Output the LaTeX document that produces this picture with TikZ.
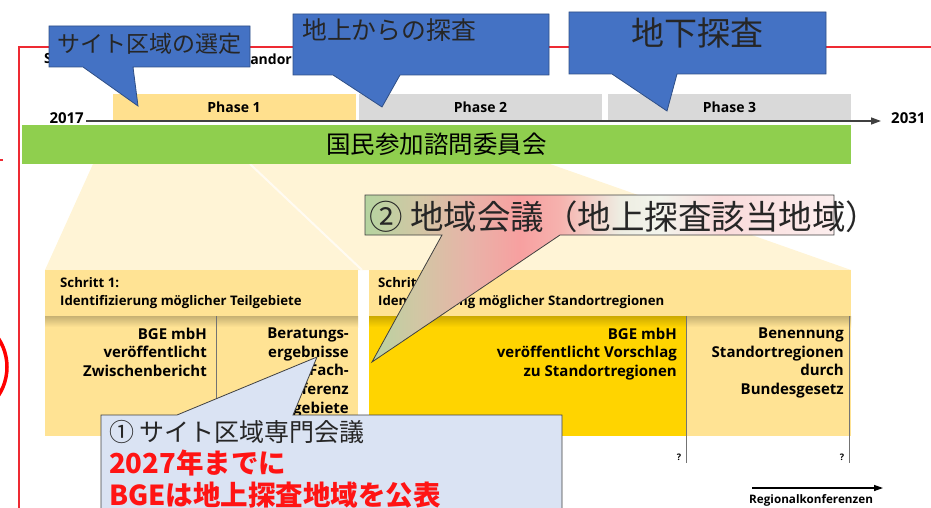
\documentclass[tikz,border=0pt]{standalone}
\usepackage{fontspec}
\setmainfont{Open Sans}
\newfontfamily\jp{Noto Sans CJK JP}
\usetikzlibrary{arrows.meta}

\definecolor{framered}{HTML}{EE2A33}
\definecolor{calloutblue}{HTML}{4472C4}
\definecolor{calloutedge}{HTML}{2F4F86}
\definecolor{phaseyel}{HTML}{FFE08E}
\definecolor{phasegray}{HTML}{D9D9D9}
\definecolor{advgreen}{HTML}{8FCF4E}
\definecolor{fancream}{HTML}{FFF4D6}
\definecolor{stepyel}{HTML}{FFE394}
\definecolor{stepgold}{HTML}{FFD400}
\definecolor{notered}{HTML}{FF1414}
\definecolor{noteblue}{HTML}{DAE3F3}
% colours of the regional callout, left to right
\definecolor{rgA}{HTML}{B5D4A0}
\definecolor{rgB}{HTML}{D2C6A4}
\definecolor{rgC}{HTML}{E8B3A8}
\definecolor{rgD}{HTML}{F7A0A0}
\definecolor{rgE}{HTML}{F6B2AE}
\definecolor{rgF}{HTML}{EEEDE2}
\definecolor{rgG}{HTML}{F2F4EC}
\definecolor{rgH}{HTML}{F9DADA}
\definecolor{rgI}{HTML}{FCEEEE}
\pgfdeclarehorizontalshading{regionshade}{100bp}{color(0bp)=(rgA); color(25bp)=(rgA); color(30.8bp)=(rgB); color(36.2bp)=(rgC); color(41.5bp)=(rgD); color(45.8bp)=(rgE); color(52.2bp)=(rgF); color(56.5bp)=(rgG); color(62.8bp)=(rgH); color(75bp)=(rgI); color(100bp)=(rgI)}

\tikzset{
  frameline/.style={draw=framered, line width=1.1pt},
  bluecall/.style={fill=calloutblue, draw=calloutedge, line width=0.8pt},
  bluetext/.style={inner sep=0pt, text=black!85, font=\jp\fontsize{#1}{#1}\selectfont},
  phasebar/.style={minimum width=243pt, minimum height=27pt, inner sep=0pt, font=\bfseries\fontsize{14}{16}\selectfont},
  yearlabel/.style={inner sep=2pt, font=\bfseries\fontsize{15}{17}\selectfont},
  timeline/.style={draw=black!75, line width=1.4pt, shorten >=8pt, -{Triangle[length=10pt,width=7pt]}},
  advisory/.style={fill=advgreen, minimum width=829pt, minimum height=39pt, inner sep=0pt, font=\jp\fontsize{24.5}{26}\selectfont},
  stephead/.style={inner sep=0pt, align=left, anchor=north west, font=\bfseries\fontsize{13.2}{18}\selectfont},
  steptext/.style={inner sep=0pt, align=right, anchor=north east, font=\bfseries\fontsize{15}{18.7}\selectfont},
  divider/.style={draw=black!55, line width=0.8pt},
  qmark/.style={inner sep=0pt, font=\bfseries\fontsize{9}{10}\selectfont},
  rkarrow/.style={draw=black, line width=1.3pt, -{Triangle[length=9pt,width=6pt]}},
  rklabel/.style={inner sep=0pt, anchor=north west, font=\bfseries\fontsize{11.7}{12}\selectfont},
  titletext/.style={inner sep=0pt, font=\bfseries\fontsize{14}{16}\selectfont},
  regioncall/.style={shade, shading=regionshade, draw=black!75, line width=0.8pt},
  notecall/.style={fill=noteblue, draw=black!75, line width=0.8pt},
  notetext/.style={inner sep=0pt, anchor=base west, text=black!85, font=\jp\fontsize{25}{30}\selectfont},
  noteemph/.style={notetext, text=notered, font=\jp\bfseries\fontsize{27.5}{30}\selectfont},
}

\begin{document}
\begin{tikzpicture}[x=1pt,y=-1pt]
			\useasboundingbox (0,0) rectangle (931,508);
			
			%%%%% FRAME %%%%%
			\draw[frameline] (931,47) -- (19,47) -- (19,508);
			\draw[frameline] (0,160) -- (3,160);
			\draw[red, line width=3.5pt] (-45,367) circle[radius=52pt];
			
			\node[titletext, anchor=west] (titleS) at (44,59) {S};
			\node[titletext, anchor=east] (titleStandor) at (292,59) {Standor};
			
			%%%%% FAN BELOW PHASE 1 %%%%%
			\fill[fancream] (93,164) -- (550,164) -- (851,270) -- (45,270) -- cycle;
			\draw[white, line width=2pt, opacity=.7] (250,164) -- (362,270);
			
			%%%%% TIMELINE %%%%%
			\node[phasebar, fill=phaseyel] (phase1) at (234,107.5) {Phase 1};
			\node[phasebar, fill=phasegray] (phase2) at (480.5,107.5) {Phase 2};
			\node[phasebar, fill=phasegray] (phase3) at (729.5,107.5) {Phase 3};
			\node[yearlabel, anchor=east] (y2017) at (86,118.5) {2017};
			\node[yearlabel, anchor=west] (y2031) at (889,118.5) {2031};
			\draw[timeline] ([yshift=-2.5pt]y2017.east) -- ([yshift=-2.5pt]y2031.west);
			
			\node[advisory] (council) at (436.5,144.5) {国民参加諮問委員会};
			
			%%%%% SCHRITT 1 %%%%%
			\fill[stepyel] (45,316) rectangle (358,436);
			\shade[top color=black!22!stepyel, bottom color=stepyel] (45,316) rectangle (358,327);
			\fill[stepyel] (45,270) rectangle (358,316);
			\draw[divider] (216,316) -- (216,436);
			\node[stephead] (head1) at (60,277.5) {Schritt 1:\\Identifizierung möglicher Teilgebiete};
			\node[steptext] (bge1) at (207,327.5) {BGE mbH\\veröffentlicht\\Zwischenbericht};
			\node[steptext] (advice1) at (349,327.5) {Beratungs-\\ergebnisse\\Fach-\\konferenz\\Teilgebiete};
			
			%%%%% SCHRITT 2 %%%%%
			\fill[stepgold] (369,316) rectangle (686,436);
			\fill[stepyel] (686,316) rectangle (851,436);
			\shade[top color=black!20!stepgold, bottom color=stepgold] (369,316) rectangle (686,327);
			\shade[top color=black!22!stepyel, bottom color=stepyel] (686,316) rectangle (851,327);
			\fill[stepyel] (369,270) rectangle (851,316);
			\draw[divider] (686,316) -- (686,463);
			\draw[divider] (849,316) -- (849,463);
			\node[stephead] (head2) at (378,277.5) {Schritt 2:\\Identifizierung möglicher Standortregionen};
			\node[steptext] (bge2) at (677,327.5) {BGE mbH\\veröffentlicht Vorschlag\\zu Standortregionen};
			\node[steptext] (law2) at (844,327.5) {Benennung\\Standortregionen\\durch\\Bundesgesetz};
			\node[qmark] (q1) at (679,457) {?};
			\node[qmark] (q2) at (842,457) {?};
			
			\coordinate (rkstart) at (752,488);
			\coordinate (rkend) at (883,488);
			\draw[rkarrow] (rkstart) -- (rkend);
			\node[rklabel] (rk) at (749,494) {Regionalkonferenzen};
			
			%%%%% CALLOUTS %%%%%
			\draw[bluecall] (49,26) -- (250,26) -- (250,67) -- (133,67) -- (138,106) -- (83,67) -- (49,67) -- cycle;
			\node[bluetext=23] (sitesel) at (149.5,44) {サイト区域の選定};
			
			\draw[bluecall] (293,14) -- (549,14) -- (549,75) -- (400,75) -- (382,107) -- (333,75) -- (293,75) -- cycle;
			\node[bluetext=24.8, anchor=west] (surface) at (302,30) {地上からの探査};
			
			\draw[bluecall] (569,12) -- (826,12) -- (826,74) -- (677,74) -- (667,111) -- (612,74) -- (569,74) -- cycle;
			\node[bluetext=33] (underground) at (697.5,33) {地下探査};
			
			\draw[regioncall] (365,195) -- (834,195) -- (834,235) -- (560,235) -- (372,362) -- (442,235) -- (365,235) -- cycle;
			\node[bluetext=33.5, anchor=west] (regional) at (369,217) {② 地域会議（地上探査該当地域）};
			
			\draw[notecall] (101,415) -- (177,415) -- (317,357) -- (293,415) -- (562,415) -- (562,515) -- (101,515) -- cycle;
			\node[notetext] (note1) at (109,441.5) {① サイト区域専門会議};
			\node[noteemph] (note2) at (109,473.5) {2027年までに};
			\node[noteemph] (note3) at (109,505.5) {BGEは地上探査地域を公表};
			
\end{tikzpicture}
\end{document}
